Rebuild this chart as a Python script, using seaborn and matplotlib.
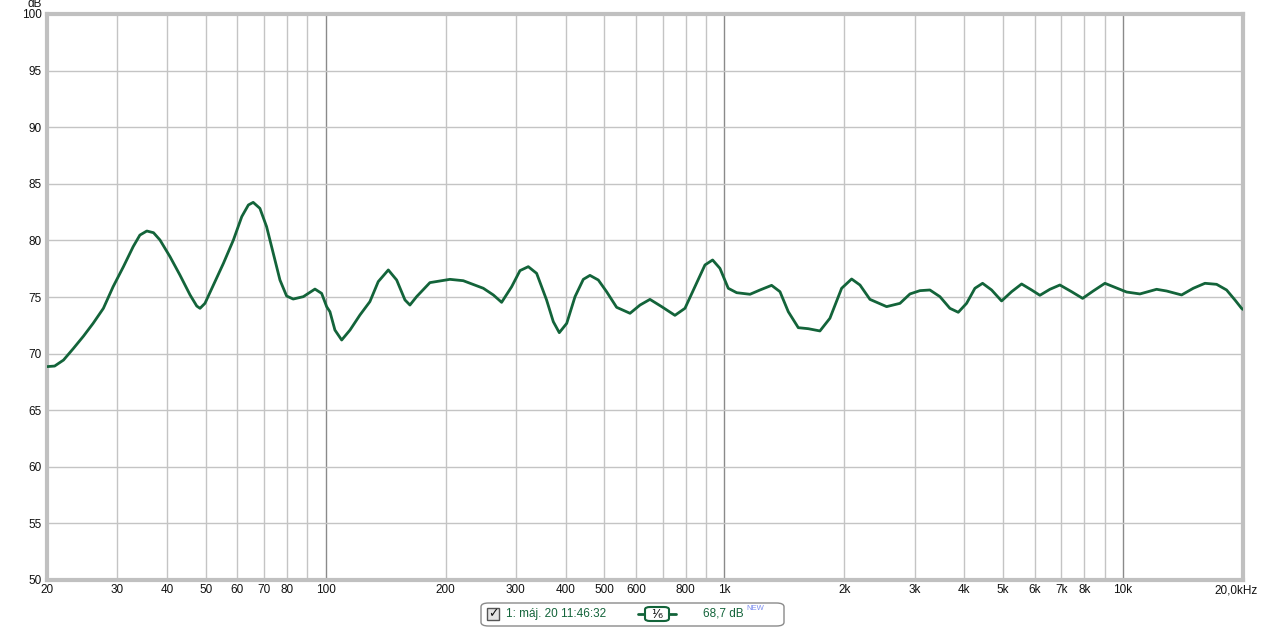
import pandas as pd
import seaborn as sns
import matplotlib.pyplot as plt
import matplotlib.transforms as mtransforms
from matplotlib.patches import FancyBboxPatch, Rectangle

# frequency response (Hz, dB)
freq = [20.0, 20.9, 22.0, 23.3, 24.7, 26.1, 27.7, 29.3, 31.1, 32.9, 34.2, 35.6, 37.0, 38.4,
        40.7, 43.1, 45.7, 47.5, 48.4, 49.8, 52.3, 55.4, 58.7, 61.6, 64.0, 65.8, 68.4, 71.1,
        73.9, 76.8, 79.8, 82.9, 87.9, 94.0, 97.7, 100.6,
        102.5, 105.5, 109.7, 115.1, 121.9, 129.1, 135.5, 143.6, 150.7, 158.1, 162.7, 169.1,
        182.6, 205, 221.4, 248.6, 263.4, 276.3, 292.8, 307.2, 322.3, 338.2, 358.2, 372.4,
        385.5, 402.4, 422.2, 442.9, 460.2, 483.0, 506.6, 536.8,
        580, 614.6, 650.8, 696.2, 751.8, 796.6, 844, 894.2, 934.6, 975, 1023, 1074, 1160,
        1229, 1314, 1379, 1447, 1533, 1624, 1737, 1840, 1969, 2086, 2189, 2319, 2553,
        2758, 2922, 3094, 3278, 3474, 3680, 3862, 4052, 4252, 4444, 4682, 4960, 5256, 5568,
        5898, 6188, 6556, 6946, 7430, 7920, 8420, 9008, 9544, 10210, 11026, 12142, 12864,
        14028, 15006, 16054, 17172, 18190, 19088, 19834, 20000]
spl = [68.85, 68.9, 69.43, 70.46, 71.55, 72.67, 74.0, 75.91, 77.68, 79.45, 80.47, 80.83,
       80.68, 80.04, 78.56, 76.94, 75.18, 74.2, 74.0, 74.44, 76.06, 77.97, 80.04, 82.1,
       83.13, 83.36, 82.83, 81.21, 78.86, 76.5, 75.09, 74.82, 75.03, 75.7, 75.32, 74.14,
       73.7, 72.08, 71.2, 72.08, 73.41, 74.59, 76.36, 77.39, 76.5, 74.74, 74.29, 75.03,
       76.27, 76.56, 76.44, 75.77, 75.18, 74.53, 75.91, 77.33, 77.68, 77.09, 74.74, 72.82,
       71.85, 72.67, 75.03, 76.56, 76.91, 76.5, 75.47, 74.09,
       73.56, 74.29, 74.79, 74.15, 73.38, 74.0, 75.91, 77.83, 78.27, 77.53, 75.77, 75.38,
       75.24, 75.62, 76.03, 75.47, 73.7, 72.29, 72.2, 72.0, 73.12, 75.77, 76.59, 76.06,
       74.79, 74.15,
       74.44, 75.27, 75.56, 75.62, 75.03, 74.0, 73.65, 74.44, 75.77, 76.21, 75.62, 74.65,
       75.47, 76.15, 75.62, 75.15, 75.68, 76.06, 75.47, 74.88, 75.53, 76.21, 75.85, 75.44,
       75.27, 75.68, 75.53, 75.18, 75.77, 76.21, 76.12, 75.62, 74.74, 74.0, 73.9]

minor_grid = [30, 40, 50, 60, 70, 80, 90, 200, 300, 400, 500, 600, 700, 800, 900,
              2000, 3000, 4000, 5000, 6000, 7000, 8000, 9000]
major_grid = [100, 1000, 10000]
xtick_pos = [20, 30, 40, 50, 60, 70, 80, 100, 200, 300, 400, 500, 600, 800, 1000,
             2000, 3000, 4000, 5000, 6000, 7000, 8000, 10000, 20000]
xtick_lab = ["20", "30", "40", "50", "60", "70", "80", "100", "200", "300", "400", "500",
             "600", "800", "1k", "2k", "3k", "4k", "5k", "6k", "7k", "8k", "10k", "20,0kHz"]
ytick_pos = list(range(50, 101, 5))

sns.set_style("white")
plt.rcParams['font.family'] = ['Liberation Sans', 'DejaVu Sans']

fig = plt.figure(figsize=(12.65, 6.28), dpi=100)
ax = fig.add_axes([47 / 1265, 48 / 628, 1196 / 1265, 566 / 628])

for f in minor_grid:
    ax.axvline(f, color="#c4c4c4", lw=1, zorder=1)
for f in major_grid:
    ax.axvline(f, color="#8a8a8a", lw=1, zorder=1)
for v in ytick_pos[1:-1]:
    ax.axhline(v, color="#c4c4c4", lw=1, zorder=1)

df = pd.DataFrame({"freq": freq, "spl": spl})
sns.lineplot(data=df, x="freq", y="spl", ax=ax, color="#13643a", lw=2, zorder=3,
             solid_joinstyle="round", solid_capstyle="round")

ax.set_xscale("log")
ax.set_xlim(20, 20000)
ax.set_ylim(50, 100)
ax.set_xticks(xtick_pos)
ax.set_xticklabels(xtick_lab)
ax.minorticks_off()
ax.set_yticks(ytick_pos)
ax.tick_params(axis="both", length=0, labelsize=8.5, colors="#111111", pad=3)
ax.tick_params(axis="y", pad=4)
ax.set_xlabel("")
ax.set_ylabel("")
# last label sits a bit left of the axis end in the original
lab = ax.get_xticklabels()[-1]
lab.set_transform(lab.get_transform() +
                  mtransforms.ScaledTranslation(-7 / 100, 0, fig.dpi_scale_trans))
for s in ax.spines.values():
    s.set_color("#c0c0c0")
    s.set_linewidth(3)
fig.text(42 / 1265, 1 - 4 / 628, "dB", ha="right", va="center", fontsize=8.5, color="#111111")

# legend box at the bottom
fig.patches.append(FancyBboxPatch((481 / 1265, 2 / 628), 303 / 1265, 23 / 628,
                                  boxstyle="round,pad=0,rounding_size=0.006",
                                  transform=fig.transFigure, fc="white", ec="#8a8a8a", lw=1))
fig.patches.append(Rectangle((487 / 1265, 8 / 628), 12 / 1265, 12 / 628,
                             transform=fig.transFigure, fc="#e4e4e4", ec="#555555", lw=1))
fig.text(493 / 1265, 14 / 628, "\u2713", ha="center", va="center", fontsize=9,
         color="#111111", family=["DejaVu Sans"])
fig.text(506 / 1265, 14 / 628, "1: máj. 20 11:46:32", ha="left", va="center",
         fontsize=8.5, color="#13643a")
fig.lines.append(plt.Line2D([638 / 1265, 676 / 1265], [14 / 628, 14 / 628],
                            transform=fig.transFigure, color="#13643a", lw=2, zorder=2))
fig.patches.append(FancyBboxPatch((645 / 1265, 7 / 628), 24 / 1265, 14 / 628,
                                  boxstyle="round,pad=0,rounding_size=0.004",
                                  transform=fig.transFigure, fc="white", ec="#13643a",
                                  lw=1.5, zorder=3))
fig.text(657 / 1265, 14 / 628, "\u00b9\u2044\u2086", ha="center", va="center", fontsize=9,
         color="#111111", family=["DejaVu Sans"], zorder=4)
fig.text(703 / 1265, 14 / 628, "68,7 dB", ha="left", va="center", fontsize=8.5, color="#13643a")
fig.text(746 / 1265, 19 / 628, "NEW", ha="left", va="center", fontsize=5.5, color="#7b8cf0")

fig.savefig("out.png", dpi=100, facecolor="white")
